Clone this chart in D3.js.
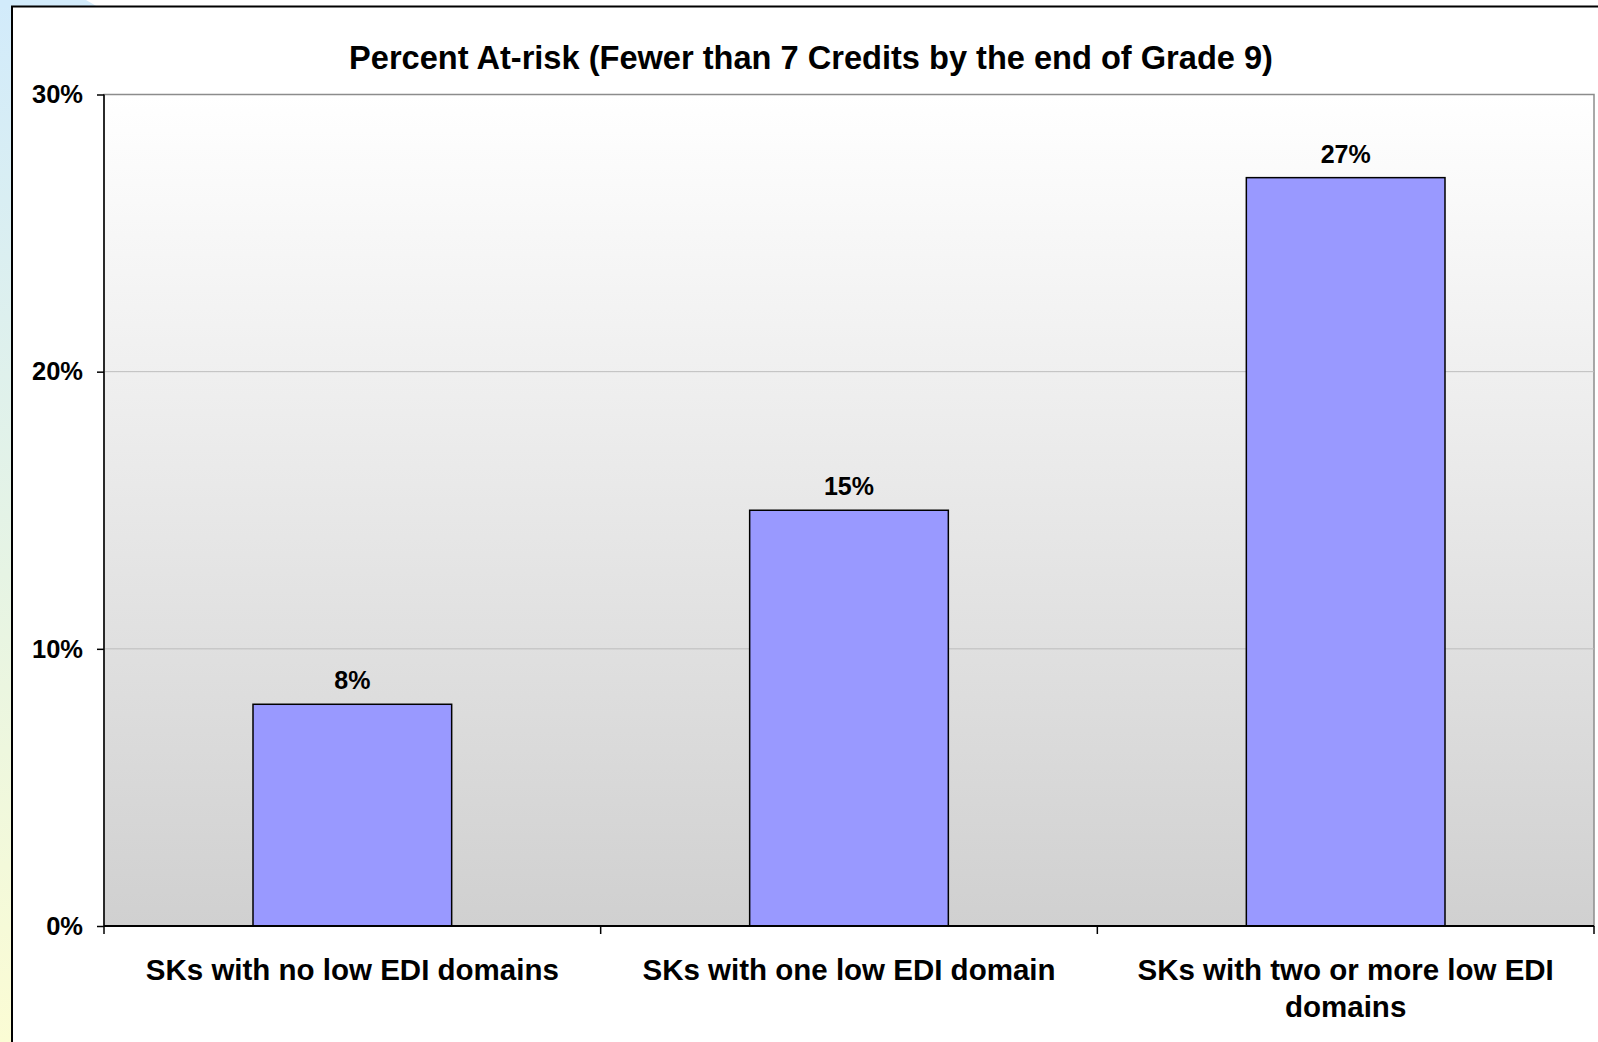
<!DOCTYPE html>
<html>
<head>
<meta charset="utf-8">
<script src="https://cdn.jsdelivr.net/npm/d3@7"></script>
<style>
  html, body { margin: 0; padding: 0; background: #fff; }
  svg { display: block; }
  text { font-family: "Liberation Sans", Arial, sans-serif; font-weight: bold; fill: #000; }
</style>
</head>
<body>
<svg id="chart" width="1598" height="1042"></svg>
<script>
// Chart data
const categories = [
  'SKs with no low EDI domains',
  'SKs with one low EDI domain',
  'SKs with two or more low EDI domains'
];
const percentAtRisk = [8, 15, 27];
const yTicks = [0, 10, 20, 30];
const chartTitle = 'Percent At-risk (Fewer than 7 Credits by the end of Grade 9)';

const svg = d3.select('#chart');
const W = 1598, H = 1042;
const plot = { left: 104, right: 1594, top: 94.5, bottom: 926 };

const defs = svg.append('defs');

// slide background strip on the left (blue -> yellow)
const sideGrad = defs.append('linearGradient')
  .attr('id', 'sideGrad').attr('x1', 0).attr('y1', 0).attr('x2', 0).attr('y2', 1);
sideGrad.append('stop').attr('offset', '0%').attr('stop-color', '#d2ebfb');
sideGrad.append('stop').attr('offset', '55%').attr('stop-color', '#e6f4e4');
sideGrad.append('stop').attr('offset', '100%').attr('stop-color', '#fbfcd4');

// plot area background (white -> gray)
const plotGrad = defs.append('linearGradient')
  .attr('id', 'plotGrad').attr('x1', 0).attr('y1', 0).attr('x2', 0).attr('y2', 1);
plotGrad.append('stop').attr('offset', '0%').attr('stop-color', '#ffffff');
plotGrad.append('stop').attr('offset', '100%').attr('stop-color', '#d0d0d0');

svg.append('rect').attr('x', 0).attr('y', 0).attr('width', 14).attr('height', H)
  .attr('fill', 'url(#sideGrad)');
svg.append('path').attr('d', 'M0,0 L86,0 L98,7 L0,7 Z').attr('fill', '#d2ebfb');

// chart frame
svg.append('rect').attr('x', 12).attr('y', 6.5).attr('width', W).attr('height', H)
  .attr('fill', '#fff').attr('stroke', '#000').attr('stroke-width', 2);

// scales
const x = d3.scaleBand().domain(categories).range([plot.left, plot.right]).paddingInner(0).paddingOuter(0);
const y = d3.scaleLinear().domain([0, 30]).range([plot.bottom, plot.top]);
const barWidth = x.bandwidth() * 0.4;

// plot area
svg.append('rect')
  .attr('x', plot.left).attr('y', plot.top)
  .attr('width', plot.right - plot.left).attr('height', plot.bottom - plot.top)
  .attr('fill', 'url(#plotGrad)')
  .attr('stroke', '#8c8c8c').attr('stroke-width', 1.5);

// gridlines
svg.append('g').selectAll('line')
  .data(yTicks.filter(t => t > 0 && t < 30))
  .join('line')
  .attr('x1', plot.left).attr('x2', plot.right)
  .attr('y1', d => y(d)).attr('y2', d => y(d))
  .attr('stroke', '#bdbdbd').attr('stroke-width', 1);

// bars
svg.append('g').selectAll('rect')
  .data(categories)
  .join('rect')
  .attr('x', (d) => x(d) + (x.bandwidth() - barWidth) / 2)
  .attr('y', (d, i) => y(percentAtRisk[i]))
  .attr('width', barWidth)
  .attr('height', (d, i) => y(0) - y(percentAtRisk[i]))
  .attr('fill', '#9999ff')
  .attr('stroke', '#000').attr('stroke-width', 1.5);

// value labels
svg.append('g').selectAll('text')
  .data(categories)
  .join('text')
  .attr('x', d => x(d) + x.bandwidth() / 2)
  .attr('y', (d, i) => y(percentAtRisk[i]) - 15)
  .attr('text-anchor', 'middle')
  .style('font-size', '25px')
  .text((d, i) => percentAtRisk[i] + '%');

// y axis
const yAxis = svg.append('g')
  .attr('transform', `translate(${plot.left},0)`)
  .call(d3.axisLeft(y).tickValues(yTicks).tickSize(7).tickPadding(14).tickFormat(d => d + '%'));
yAxis.select('.domain').attr('stroke', '#000').attr('stroke-width', 1.5).attr('d', `M0,${plot.top}V${plot.bottom}`);
yAxis.selectAll('.tick line').attr('stroke', '#000').attr('stroke-width', 1.5);
yAxis.selectAll('.tick text')
  .style('font-size', '25.5px').style('font-family', '"Liberation Sans", Arial, sans-serif')
  .attr('fill', '#000');

// x axis
const xAxis = svg.append('g')
  .attr('transform', `translate(0,${plot.bottom})`)
  .call(d3.axisBottom(x).tickSize(0).tickFormat(''));
xAxis.select('.domain').attr('stroke', '#000').attr('stroke-width', 2).attr('d', `M${plot.left},0H${plot.right}`);
xAxis.selectAll('.tick').remove();

// category separators
svg.append('g').selectAll('line')
  .data(categories.concat(['end']))
  .join('line')
  .attr('x1', (d, i) => i < categories.length ? x(d) : plot.right)
  .attr('x2', (d, i) => i < categories.length ? x(d) : plot.right)
  .attr('y1', plot.bottom).attr('y2', plot.bottom + 8)
  .attr('stroke', '#000').attr('stroke-width', 1.5);

// category labels with wrapping
function wrap(textSel, width) {
  textSel.each(function() {
    const t = d3.select(this);
    const words = t.text().split(/\s+/);
    const xPos = t.attr('x');
    const y0 = +t.attr('y');
    t.text(null);
    let line = [];
    let lineNo = 0;
    let tspan = t.append('tspan').attr('x', xPos).attr('y', y0);
    words.forEach(w => {
      line.push(w);
      tspan.text(line.join(' '));
      if (tspan.node().getComputedTextLength() > width && line.length > 1) {
        line.pop();
        tspan.text(line.join(' '));
        line = [w];
        lineNo++;
        tspan = t.append('tspan').attr('x', xPos).attr('y', y0 + lineNo * 37).text(w);
      }
    });
  });
}

svg.append('g').selectAll('text')
  .data(categories)
  .join('text')
  .attr('x', d => x(d) + x.bandwidth() / 2)
  .attr('y', 980)
  .attr('text-anchor', 'middle')
  .style('font-size', '29.5px')
  .text(d => d)
  .call(wrap, 440);

// title
svg.append('text')
  .attr('x', 811).attr('y', 69)
  .attr('text-anchor', 'middle')
  .style('font-size', '32.6px')
  .text(chartTitle);
</script>
</body>
</html>
